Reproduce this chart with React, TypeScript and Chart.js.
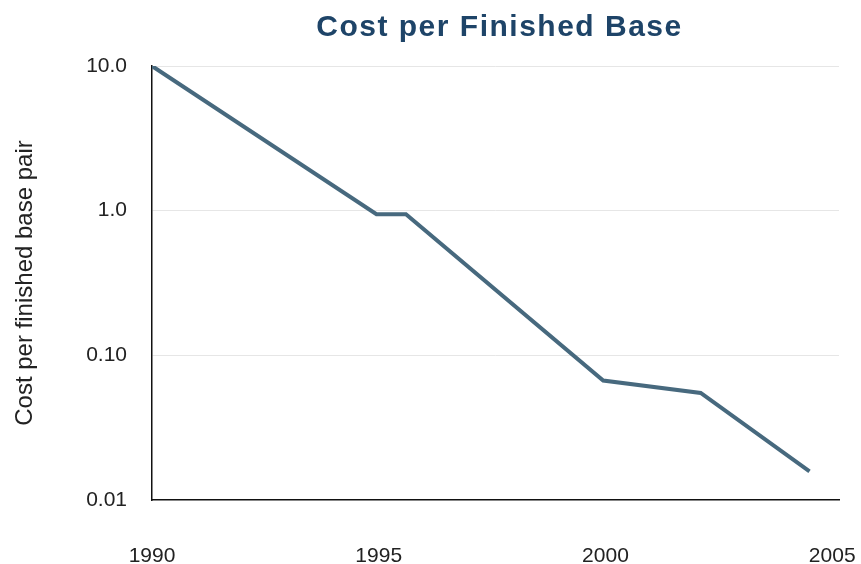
import React, { useEffect, useRef } from "react";
import { Chart, registerables } from "chart.js";

Chart.register(...registerables);

const years = [1990, 1994.95, 1995.6, 1999.95, 2002.1, 2004.5];
const costs = [10, 0.946, 0.946, 0.067, 0.055, 0.0158];
const xTicks = [1990, 1995, 2000, 2005];
const yTicks = [0.01, 0.1, 1, 10];
const yTickLabels = ["0.01", "0.10", "1.0", "10.0"];
const titleText = "Cost per Finished Base";
const yTitleText = "Cost per finished base pair";

const titlePlugin = {
  id: "centeredTitle",
  afterDraw(chart: any) {
    const { ctx, chartArea } = chart;
    ctx.save();
    ctx.font = 'bold 30px "Liberation Sans", Arial, sans-serif';
    try {
      (ctx as any).letterSpacing = "1.5px";
    } catch (e) {}
    ctx.fillStyle = "#1e4468";
    ctx.textAlign = "center";
    ctx.textBaseline = "alphabetic";
    ctx.fillText(titleText, (chartArea.left + chartArea.right) / 2 + 4, 36);
    ctx.restore();
  },
};

export default function App() {
  const ref = useRef<HTMLCanvasElement | null>(null);
  useEffect(() => {
    if (!ref.current) return;
    const font = { family: '"Liberation Sans", Arial, sans-serif', size: 21 };
    const chart = new Chart(ref.current, {
      type: "line",
      data: {
        datasets: [
          {
            data: years.map((y, i) => ({ x: y, y: costs[i] })),
            borderColor: "#47697e",
            borderWidth: 4,
            pointRadius: 0,
            fill: false,
            tension: 0,
          },
        ],
      },
      options: {
        animation: false,
        responsive: true,
        maintainAspectRatio: false,
        layout: { padding: { top: 66, left: 9, right: 22, bottom: 0 } },
        plugins: { legend: { display: false }, tooltip: { enabled: false }, title: { display: false } },
        scales: {
          x: {
            type: "linear",
            min: 1990,
            max: 2005.15,
            afterBuildTicks: (s: any) => {
              s.ticks = xTicks.map((v) => ({ value: v }));
            },
            afterFit: (s: any) => {
              s.height = 64;
              s.paddingLeft = 0;
              s.paddingRight = 0;
            },
            grid: { display: false, drawTicks: false },
            border: { display: true, color: "#111", width: 1.5 },
            ticks: {
              font,
              color: "#222",
              padding: 44,
              maxRotation: 0,
              callback: (v: any) => String(v),
            },
          },
          y: {
            type: "logarithmic",
            min: 0.01,
            max: 10,
            afterBuildTicks: (s: any) => {
              s.ticks = yTicks.map((v) => ({ value: v }));
            },
            afterFit: (s: any) => {
              s.width = 143;
            },
            grid: {
              color: (c: any) => (c.tick && c.tick.value === 0.01 ? "rgba(0,0,0,0)" : "#e6e6e6"),
              lineWidth: 1,
              drawTicks: false,
            },
            border: { display: true, color: "#111", width: 1.5 },
            ticks: {
              font,
              color: "#222",
              padding: 25,
              callback: (v: any) => {
                const i = yTicks.findIndex((t) => Math.abs(t - v) < 1e-9);
                return i >= 0 ? yTickLabels[i] : "";
              },
            },
            title: {
              display: true,
              text: yTitleText,
              font: { family: '"Liberation Sans", Arial, sans-serif', size: 24 },
              color: "#222",
              padding: { top: 2, bottom: 4 },
            },
          },
        },
      },
      plugins: [titlePlugin],
    });
    return () => chart.destroy();
  }, []);
  return (
    <div style={{ position: "fixed", left: 0, top: 0, width: 861, height: 564, background: "#fff" }}>
      <canvas ref={ref} />
    </div>
  );
}
